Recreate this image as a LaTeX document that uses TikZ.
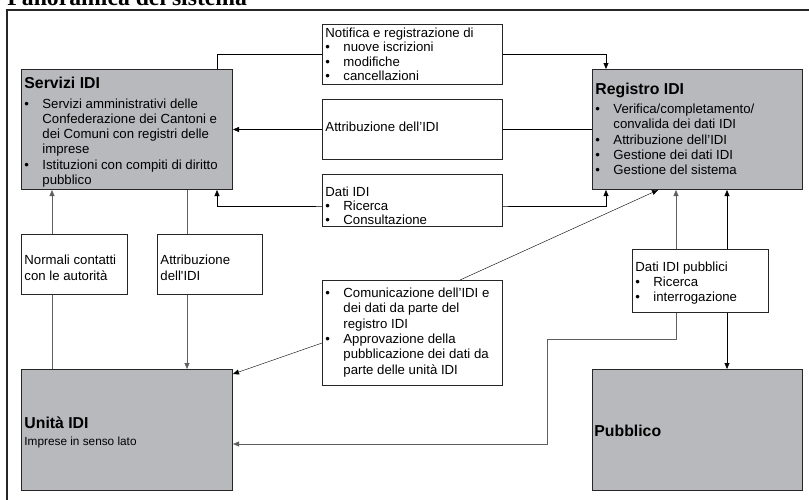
\documentclass[tikz,border=0pt]{standalone}
\usepackage{fontspec}
\setmainfont{Liberation Sans}
\newfontfamily\titlefont{Liberation Serif}
\usetikzlibrary{arrows.meta,backgrounds}
\definecolor{boxgrey}{RGB}{184,185,189}
\definecolor{linegrey}{RGB}{95,95,95}
\tikzset{
  greybox/.style={draw=black!85, line width=1pt, fill=boxgrey, anchor=north west, inner sep=0},
  whitebox/.style={draw=black!85, line width=0.9pt, fill=white, anchor=north west, inner sep=0},
  txt/.style={inner sep=0, anchor=base west, font=\fontsize{13.2}{15.4}\selectfont},
  head/.style={inner sep=0, anchor=base west, font=\bfseries\fontsize{15.8}{18}\selectfont},
  gline/.style={draw=linegrey}
}
\newcommand{\bl}{\textbullet}
\begin{document}
\begin{tikzpicture}[x=1pt, y=-1pt, >={Triangle[length=6pt,width=5pt]}, line width=0.9pt]
\useasboundingbox (0,0) rectangle (809,499);
\draw[line width=1.5pt, black!85] (7,520) -- (7,10) -- (830,10);
\node[inner sep=0, anchor=base west, font=\titlefont\bfseries\fontsize{23.7}{26}\selectfont] (titolo) at (7,5) {Panoramica del sistema};

% boxes
\foreach \n/\x/\y/\w/\h/\s in {servizi/21/69/211/120/greybox, registro/592/69/210/120/greybox,
  unita/21/369/211/121/greybox, pubblico/592/369/210/121/greybox,
  notifica/322/24/180/60/whitebox, attrib/322/99/180/60/whitebox, dati/322/174/180/52/whitebox,
  normali/21/234/106/60/whitebox, assegn/157/234/105/60/whitebox,
  comun/322/280/180/105/whitebox, pubblici/632/249/136/63/whitebox}
  \node[\s, minimum width=\w, minimum height=\h] (\n) at (\x,\y) {};

% texts
\node[head] (servizi-h) at ([shift={(3,19.5)}]servizi.north west) {Servizi IDI};
\node[txt, font=\fontsize{13.2}{15.2}\selectfont] (servizi-t) at ([shift={(3,39.3)}]servizi.north west)
  {\begin{tabular}[t]{@{}p{18pt}@{}l@{}}
  \bl & Servizi amministrativi delle\\
      & Confederazione dei Cantoni e\\
      & dei Comuni con registri delle\\
      & imprese\\
  \bl & Istituzioni con compiti di diritto\\
      & pubblico
  \end{tabular}};
\node[head] (registro-h) at ([shift={(3,25.3)}]registro.north west) {Registro IDI};
\node[txt] (registro-t) at ([shift={(3,44.3)}]registro.north west)
  {\begin{tabular}[t]{@{}p{18pt}@{}l@{}}
  \bl & Verifica/completamento/\\
      & convalida dei dati IDI\\
  \bl & Attribuzione dell’IDI\\
  \bl & Gestione dei dati IDI\\
  \bl & Gestione del sistema
  \end{tabular}};
\node[txt, font=\fontsize{13.2}{14.5}\selectfont] (notifica-t) at ([shift={(3,13.3)}]notifica.north west)
  {\begin{tabular}[t]{@{}p{18pt}@{}l@{}}
  \multicolumn{2}{@{}l@{}}{Notifica e registrazione di}\\
  \bl & nuove iscrizioni\\
  \bl & modifiche\\
  \bl & cancellazioni
  \end{tabular}};
\node[txt] (attrib-t) at ([shift={(3,32.7)}]attrib.north west) {Attribuzione dell’IDI};
\node[txt, font=\fontsize{13.2}{13.8}\selectfont] (dati-t) at ([shift={(3,22.7)}]dati.north west)
  {\begin{tabular}[t]{@{}p{18pt}@{}l@{}}
  \multicolumn{2}{@{}l@{}}{Dati IDI}\\
  \bl & Ricerca\\
  \bl & Consultazione
  \end{tabular}};
\node[txt, font=\fontsize{13.2}{15.5}\selectfont] (normali-t) at ([shift={(3,30.5)}]normali.north west)
  {\begin{tabular}[t]{@{}l@{}}Normali contatti\\con le autorità\end{tabular}};
\node[txt, font=\fontsize{13.2}{15.5}\selectfont] (assegn-t) at ([shift={(3,30.5)}]assegn.north west)
  {\begin{tabular}[t]{@{}l@{}}Attribuzione\\dell\textquotesingle IDI\end{tabular}};
\node[txt] (comun-t) at ([shift={(3,17.3)}]comun.north west)
  {\begin{tabular}[t]{@{}p{18pt}@{}l@{}}
  \bl & Comunicazione dell’IDI e\\
      & dei dati da parte del\\
      & registro IDI\\
  \bl & Approvazione della\\
      & pubblicazione dei dati da\\
      & parte delle unità IDI
  \end{tabular}};
\node[txt, font=\fontsize{13.2}{15}\selectfont] (pubblici-t) at ([shift={(3,22.7)}]pubblici.north west)
  {\begin{tabular}[t]{@{}p{18pt}@{}l@{}}
  \multicolumn{2}{@{}l@{}}{Dati IDI pubblici}\\
  \bl & Ricerca\\
  \bl & interrogazione
  \end{tabular}};
\node[head] (unita-h) at ([shift={(3,59)}]unita.north west) {Unità IDI};
\node[txt, font=\fontsize{11.8}{13}\selectfont] (unita-t) at ([shift={(3,76)}]unita.north west) {Imprese in senso lato};
\node[head] (pubblico-h) at ([shift={(2,67)}]pubblico.north west) {Pubblico};

% connectors
\begin{scope}[on background layer]
\draw[->] (servizi.north -| 217,0) |- (notifica) -| (registro.north -| 606,0);
\draw[->] (registro.west) -- (servizi.east);
\draw[<->] (servizi.south -| 217,0) |- (dati.center |- 0,206) -| (registro.south -| 606,0);
\draw[gline,->] (unita.north -| 52,0) -- (servizi.south -| 52,0);
\draw[gline,->] (servizi.south -| 187,0) -- (unita.north -| 187,0);
\draw[->] (comun.north -| 460,0) -- (registro.south -| 658,0);
\draw[->] (comun.west |- 0,343) -- (unita.east |- 0,374);
\draw[gline,<->] (unita.east |- 0,444) -| (547,339) -| (registro.south -| 676,0);
\draw[<->] (registro.south -| 727,0) -- (pubblico.north -| 727,0);
\end{scope}
\end{tikzpicture}
\end{document}
